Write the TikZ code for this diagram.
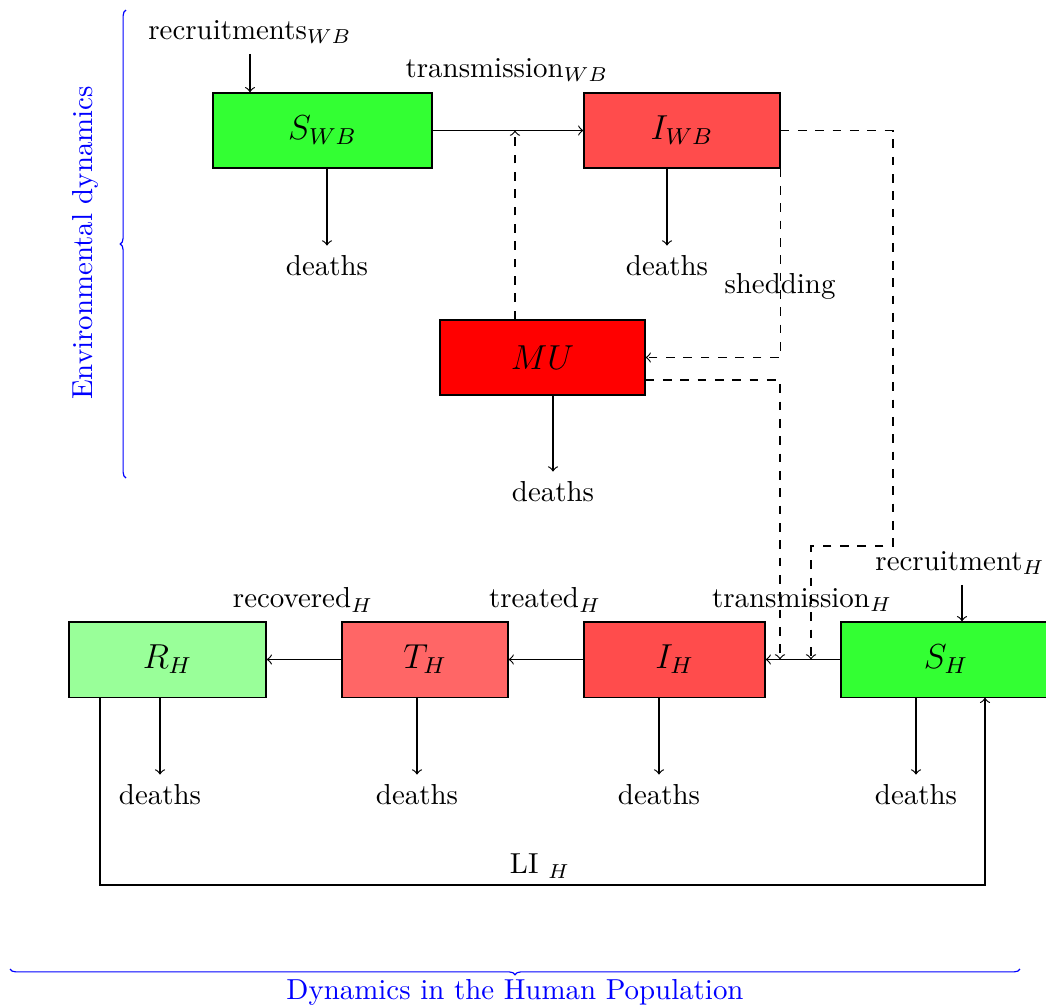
\documentclass[tikz,border=0pt]{standalone}
\usepackage{tikz}
\usetikzlibrary{positioning}
\usetikzlibrary{decorations.pathreplacing}
\tikzset{
	compartment/.style={
		draw,
		fill=#1,
		minimum height=26pt,
		font=\large
	},
	compartment/.default={white},
	flow/.style={->},
	contact/.style={dashed,->},
	dyn/.style={
		blue,
		decorate,
		decoration={brace,amplitude=2pt}
	}
}

\begin{document}
\begin{tikzpicture}[x=0.346pt,y=-0.346pt]
	\useasboundingbox (0,0) rectangle (1046,1006);

	% wild birds and the environment
	\node[compartment=green!80,minimum width=75.8pt] (sWB) at (322.5,130.5) {$S_{WB}$};
	\node[compartment=red!70,minimum width=67.8pt] (iWB) at (682,130.5) {$I_{WB}$};
	\node[compartment=red,minimum width=70.9pt] (mu) at (542.5,357.5) {$MU$};

	\node (recWB) at (250,32) {recruitments$_{WB}$};
	\node (trWB) at (507,70) {transmission$_{WB}$};
	\node (shed) at (780,286) {shedding};
	\node (dsWB) at (327,266) {deaths};
	\node (diWB) at (667,266) {deaths};
	\node (dmu) at (553,492) {deaths};

	\coordinate (jWB) at (515,130.5);
	\coordinate (c1) at (893,546);
	\coordinate (c2) at (811,546);
	\coordinate (c3) at (780,380);

	\draw[flow] (recWB.south) -- (recWB.south |- sWB.north);
	\draw[flow] (sWB) -- (iWB);
	\draw[contact] (jWB |- mu.north) -- (jWB);
	\draw[flow] (sWB.south -| dsWB) -- (dsWB);
	\draw[flow] (iWB.south -| diWB) -- (diWB);
	\draw[flow] (mu.south -| dmu) -- (dmu);
	\draw[contact] (iWB.south east) |- (mu.east);

	% human population
	\node[compartment=green!40,minimum width=68.2pt] (rH) at (167.5,659.5) {$R_H$};
	\node[compartment=red!60,minimum width=57.4pt] (tH) at (425,659.5) {$T_H$};
	\node[compartment=red!70,minimum width=62.6pt] (iH) at (674.5,659.5) {$I_H$};
	\node[compartment=green!80,minimum width=72.7pt] (sH) at (946,659.5) {$S_H$};

	\node (recH) at (960,563) {recruitment$_H$};
	\node (trH) at (802,600) {transmission$_H$};
	\node (treat) at (545,600) {treated$_H$};
	\node (recov) at (303,600) {recovered$_H$};
	\node (drH) at (160,795) {deaths};
	\node (dtH) at (417,795) {deaths};
	\node (diH) at (659,795) {deaths};
	\node (dsH) at (916,795) {deaths};
	\node (li) at (540,866) {LI $_H$};

	\coordinate (l1) at (100,885);
	\coordinate (l2) at (985,885);

	\draw[flow] (recH.south -| 962,0) -- (sH.north -| 962,0);
	\draw[flow] (sH) -- (iH);
	\draw[flow] (iH) -- (tH);
	\draw[flow] (tH) -- (rH);
	\draw[flow] (rH.south -| drH) -- (drH);
	\draw[flow] (tH.south -| dtH) -- (dtH);
	\draw[flow] (iH.south -| diH) -- (diH);
	\draw[flow] (sH.south -| dsH) -- (dsH);
	\draw[flow] (rH.south -| l1) -- (l1) -- (l2) -- (sH.south -| l2);

	% contact between the two
	\draw[contact] (iWB.east) -| (c1) -- (c2) -- (c2 |- sH.west);
	\draw[contact] (mu.east |- c3) -- (c3) -- (c3 |- sH.west);

	% braces
	\draw[dyn] (126,478) -- (126,10);
	\node[blue,rotate=90] (env) at (85,243) {Environmental dynamics};
	\draw[dyn] (1020,969) -- (10,969);
	\node[blue] (hum) at (515,992) {Dynamics in the Human Population};
\end{tikzpicture}
\end{document}
